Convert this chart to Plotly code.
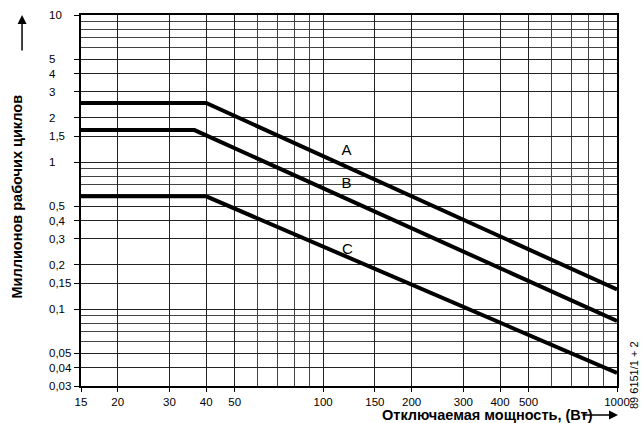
import math
import plotly.graph_objects as go

# ---- data ----
power_A = [15, 40, 1000]
cycles_A = [2.52, 2.52, 0.136]
power_B = [15, 36.5, 1000]
cycles_B = [1.65, 1.65, 0.083]
power_C = [15, 40, 1000]
cycles_C = [0.585, 0.585, 0.0368]

curve_names = ["A", "B", "C"]
label_x = [120, 120, 121]
label_y = [1.18, 0.706, 0.252]

x_tickvals = [15, 20, 30, 40, 50, 100, 150, 200, 300, 400, 500, 1000]
x_ticktext = ["15", "20", "30", "40", "50", "100", "150", "200", "300", "400", "500", "1000"]
y_tickvals = [0.03, 0.04, 0.05, 0.1, 0.15, 0.2, 0.3, 0.4, 0.5, 1, 1.5, 2, 3, 4, 5, 10]
y_ticktext = ["0,03", "0,04", "0,05", "0,1", "0,15", "0,2", "0,3", "0,4", "0,5",
              "1", "1,5", "2", "3", "4", "5", "10"]

x_title = "Отключаемая мощность, (Вт)"
y_title = "Миллионов рабочих циклов"
code_text = "89 6151/1 + 2"

FONT = "Liberation Sans, Arial, sans-serif"

fig = go.Figure()
for xs, ys in [(power_A, cycles_A), (power_B, cycles_B), (power_C, cycles_C)]:
    fig.add_trace(go.Scatter(x=xs, y=ys, mode="lines",
                             line=dict(color="black", width=4),
                             showlegend=False, hoverinfo="skip"))

fig.add_trace(go.Scatter(x=label_x, y=label_y, mode="text", text=curve_names,
                         textfont=dict(family=FONT, size=15, color="black"),
                         showlegend=False, hoverinfo="skip"))

# y tick labels, left aligned like the original
for v, t in zip(y_tickvals, y_ticktext):
    fig.add_annotation(x=-0.0634, xref="paper", y=math.log10(v), yref="y",
                       text=t, showarrow=False, xanchor="left", yanchor="middle",
                       font=dict(family=FONT, size=11.5, color="black"))

# axis titles and arrows
fig.add_annotation(x=-0.1185, xref="paper", y=0.512, yref="paper", text=f"<b>{y_title}</b>",
                   textangle=-90, showarrow=False, xanchor="center", yanchor="middle",
                   font=dict(family=FONT, size=14.5, color="black"))
fig.add_annotation(x=-0.110, xref="paper", y=1.0, yref="paper", text="",
                   showarrow=True, ax=0, ay=37, arrowhead=2, arrowsize=1.2,
                   arrowwidth=1.5, arrowcolor="black")
fig.add_annotation(x=0.959, xref="paper", y=-0.0782, yref="paper", text=f"<b>{x_title}</b>",
                   showarrow=False, xanchor="right", yanchor="middle",
                   font=dict(family=FONT, size=14.5, color="black"))
fig.add_annotation(x=1.0019, xref="paper", y=-0.0782, yref="paper", text="",
                   showarrow=True, ax=-37, ay=0, arrowhead=2, arrowsize=1.2,
                   arrowwidth=1.5, arrowcolor="black")
fig.add_annotation(x=1.032, xref="paper", y=0.03, yref="paper", text=code_text,
                   textangle=-90, showarrow=False, xanchor="center", yanchor="middle",
                   font=dict(family=FONT, size=11, color="black"))

fig.update_xaxes(type="log", range=[math.log10(15), math.log10(1000)],
                 tickvals=x_tickvals, ticktext=x_ticktext,
                 ticks="outside", ticklen=4, tickcolor="black", tickwidth=1,
                 ticklabelstandoff=0,
                 showgrid=True, gridcolor="#222", gridwidth=1,
                 minor=dict(dtick="D1", showgrid=True, gridcolor="#444", gridwidth=1, ticks=""),
                 showline=True, linecolor="black", linewidth=2, mirror=True,
                 tickfont=dict(family=FONT, size=11.5, color="black"),
                 zeroline=False)
fig.update_yaxes(type="log", range=[math.log10(0.03), 1],
                 tickvals=y_tickvals, showticklabels=False,
                 ticks="outside", ticklen=5, tickcolor="black", tickwidth=1,
                 showgrid=True, gridcolor="#222", gridwidth=1,
                 minor=dict(dtick="D1", showgrid=True, gridcolor="#444", gridwidth=1, ticks=""),
                 showline=True, linecolor="black", linewidth=2, mirror=True,
                 zeroline=False)

fig.update_layout(width=641, height=423,
                  margin=dict(l=81, r=24, t=15, b=37),
                  paper_bgcolor="white", plot_bgcolor="white",
                  font=dict(family=FONT, color="black"))

fig.write_html("out.html", config={"displayModeBar": False},
               post_script="document.body.style.margin='0';document.body.style.overflow='hidden';")
